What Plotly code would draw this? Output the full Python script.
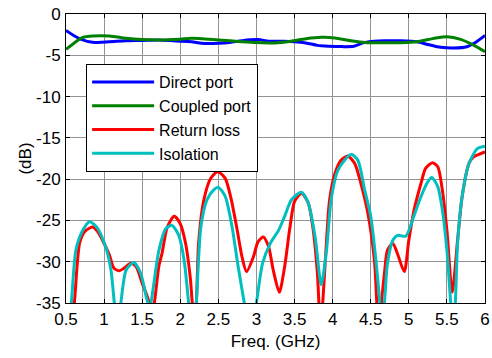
import plotly.graph_objects as go

# Direct port
f_direct = [0.5, 0.6, 0.7, 0.85, 1.07, 1.29, 1.5, 1.72, 1.94, 2.15, 2.28, 2.5, 2.65, 2.81, 3.02,
            3.16, 3.35, 3.5, 3.65, 3.8, 3.95, 4.11, 4.28, 4.4, 4.55, 4.7, 4.9, 5.11, 5.25, 5.42,
            5.59, 5.76, 5.89, 6.0]
s_direct = [-2.0, -2.6, -3.07, -3.43, -3.35, -3.23, -3.2, -3.15, -3.27, -3.35, -3.55, -3.55, -3.45,
            -3.23, -3.1, -3.3, -3.3, -3.35, -3.5, -3.8, -3.9, -3.95, -3.9, -3.5, -3.3, -3.25, -3.23,
            -3.35, -3.7, -4.04, -4.12, -3.96, -3.35, -2.6]

# Coupled port
f_coupled = [0.5, 0.63, 0.72, 0.85, 1.07, 1.29, 1.5, 1.72, 2.0, 2.15, 2.5, 2.81, 3.0, 3.24, 3.45,
             3.65, 3.85, 4.03, 4.24, 4.46, 4.7, 4.9, 5.11, 5.33, 5.5, 5.68, 5.85, 6.0]
s_coupled = [-4.28, -3.35, -2.83, -2.66, -2.66, -2.95, -3.1, -3.15, -3.05, -2.95, -3.15, -3.35,
             -3.45, -3.5, -3.3, -3.0, -2.83, -2.9, -3.25, -3.47, -3.47, -3.47, -3.35, -2.95, -2.75,
             -3.07, -3.76, -4.56]

# Return loss
f_return = [0.55, 0.61, 0.68, 0.75, 0.85, 0.92, 0.98, 1.07, 1.13, 1.2, 1.26, 1.35, 1.42, 1.5, 1.58,
            1.62, 1.66, 1.72, 1.76, 1.83, 1.92, 2.0, 2.07, 2.13, 2.18, 2.21, 2.24, 2.31, 2.4, 2.49,
            2.59, 2.66, 2.74, 2.81, 2.87, 2.96, 3.02, 3.09, 3.16, 3.22, 3.3, 3.37, 3.44, 3.5, 3.59,
            3.68, 3.74, 3.8, 3.84, 3.87, 3.92, 3.96, 4.03, 4.11, 4.2, 4.29, 4.37, 4.46, 4.55, 4.58,
            4.61, 4.64, 4.68, 4.72, 4.79, 4.85, 4.94, 5.0, 5.07, 5.16, 5.22, 5.31, 5.38, 5.44, 5.5,
            5.57, 5.64, 5.7, 5.79, 5.85, 5.92, 6.0]
s_return = [-40, -35, -27.7, -26.3, -25.8, -26.4, -27.4, -29.2, -30.8, -31.1, -30.8, -30.2, -30.6,
            -32.6, -34.6, -37, -35, -30.5, -29.0, -25.8, -24.5, -25.4, -27.8, -31.8, -37, -35, -27.8,
            -22.5, -19.9, -19.1, -19.9, -22.1, -25.8, -29.4, -31.2, -29.4, -27.6, -27.0, -28.2, -31,
            -33.7, -30.6, -25.8, -22.7, -21.7, -22.9, -25.8, -31.4, -38, -35, -27.4, -22.5, -19.3,
            -17.7, -17.2, -18.1, -20.5, -24.0, -30.0, -35, -38, -35, -31.4, -28.6, -27.8, -29.0,
            -31.2, -27.4, -23.7, -20.5, -18.7, -18.0, -18.5, -21.3, -26.2, -33.7, -27.4, -22.1,
            -18.1, -17.3, -17.0, -16.7]

# Isolation
f_isol = [0.53, 0.57, 0.63, 0.72, 0.81, 0.91, 1.02, 1.09, 1.14, 1.18, 1.22, 1.29, 1.39, 1.48, 1.56,
          1.6, 1.64, 1.72, 1.81, 1.89, 1.98, 2.05, 2.11, 2.16, 2.21, 2.27, 2.35, 2.44, 2.5, 2.59,
          2.68, 2.76, 2.84, 2.92, 3.0, 3.08, 3.18, 3.29, 3.37, 3.46, 3.59, 3.68, 3.77, 3.85, 3.92,
          3.98, 4.07, 4.24, 4.33, 4.42, 4.5, 4.57, 4.62, 4.65, 4.68, 4.72, 4.79, 4.85, 4.96, 5.05,
          5.16, 5.25, 5.3, 5.38, 5.44, 5.5, 5.55, 5.58, 5.61, 5.64, 5.7, 5.79, 5.9, 6.0]
s_isol = [-38, -35, -28.6, -26.2, -25.15, -25.9, -28.2, -31, -35.5, -38, -35, -31, -30.1, -31.4,
          -34.5, -35.6, -33.5, -28.6, -26.0, -25.6, -26.8, -29.8, -35, -40, -35, -25.8, -22.5,
          -21.3, -21.0, -22.1, -25.8, -30.6, -35, -40, -35, -30.2, -27.8, -26.2, -24.5, -22.5,
          -21.6, -22.9, -27, -32.8, -28.6, -22.5, -18.9, -17.0, -17.7, -21.3, -24.5, -30.0, -35,
          -38, -35, -30.2, -27.4, -26.8, -26.9, -24.9, -22.1, -20.3, -19.8, -20.9, -23.7, -28.6,
          -35, -38, -35, -27.8, -22.1, -18.1, -16.3, -16.0]

x_ticks = [0.5, 1, 1.5, 2, 2.5, 3, 3.5, 4, 4.5, 5, 5.5, 6]
x_tick_labels = ["0.5", "1", "1.5", "2", "2.5", "3", "3.5", "4", "4.5", "5", "5.5", "6"]
y_ticks = [0, -5, -10, -15, -20, -25, -30, -35]
y_tick_labels = ["0", "-5", "-10", "-15", "-20", "-25", "-30", "-35"]

FONT = "Liberation Sans, Arial, sans-serif"
FS = 17

fig = go.Figure()
series = [
    ("Direct port", f_direct, s_direct, "#0000FF"),
    ("Coupled port", f_coupled, s_coupled, "#008000"),
    ("Return loss", f_return, s_return, "#FF0000"),
    ("Isolation", f_isol, s_isol, "#00BFBF"),
]
for name, fx, fy, col in series:
    fig.add_trace(go.Scatter(x=fx, y=fy, mode="lines", name=name,
                             line=dict(color=col, width=3, shape="spline", smoothing=0.7)))

axis_common = dict(showline=True, linecolor="black", linewidth=1, mirror="ticks",
                   ticks="inside", ticklen=4, tickcolor="black",
                   showgrid=True, gridcolor="#939393", gridwidth=1,
                   zeroline=False, tickfont=dict(family=FONT, size=FS, color="black"))

fig.update_xaxes(range=[0.5, 6], tickvals=x_ticks, ticktext=x_tick_labels,
                 title=dict(text="Freq. (GHz)", font=dict(family=FONT, size=FS, color="black"),
                            standoff=6),
                 ticklabelstandoff=1, ticklabeloverflow="allow", **axis_common)
fig.update_yaxes(range=[-35, 0], tickvals=y_ticks, ticktext=y_tick_labels,
                 title=dict(text="(dB)", font=dict(family=FONT, size=FS, color="black"),
                            standoff=0),
                 ticklabelstandoff=1, ticklabeloverflow="allow",
                 **axis_common)

fig.update_layout(
    width=492, height=358,
    margin=dict(l=66, r=2, t=14, b=55),
    paper_bgcolor="white", plot_bgcolor="white",
    font=dict(family=FONT, size=FS, color="black"),
    legend=dict(x=0.048, y=0.827, xanchor="left", yanchor="top",
                bgcolor="white", bordercolor="black", borderwidth=1,
                font=dict(family=FONT, size=16, color="black"),
                itemwidth=62, tracegroupgap=0),
    showlegend=True,
)

fig.write_html("out.html")
